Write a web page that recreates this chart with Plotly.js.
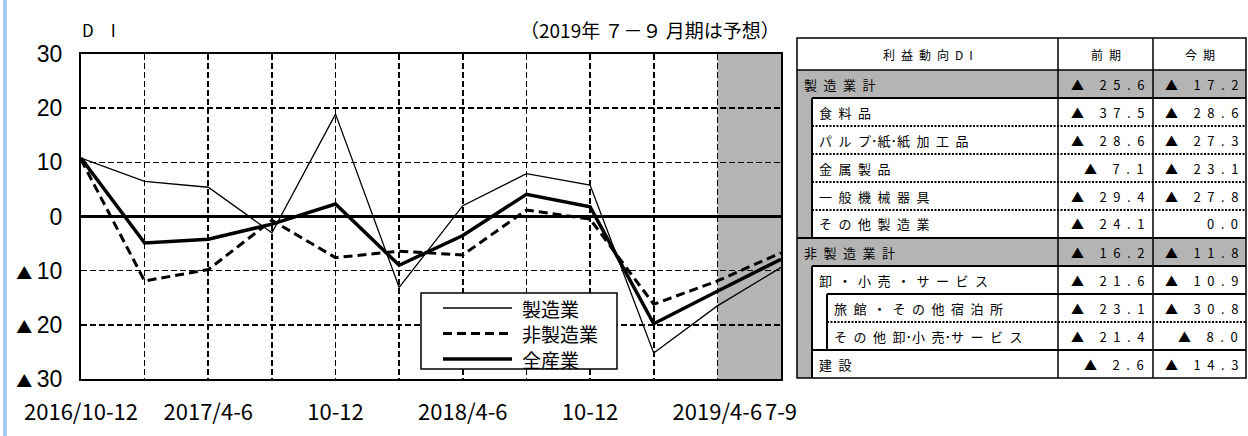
<!DOCTYPE html>
<html><head><meta charset="utf-8">
<script src="https://cdn.plot.ly/plotly-3.0.1.min.js"></script>
<style>html,body{margin:0;padding:0;background:#fff}#chart{width:1248px;height:436px}</style>
</head><body><div id="chart"></div>
<script>
// ---- chart data ----
const periods = ['2016/10-12','2017/1-3','2017/4-6','2017/7-9','2017/10-12','2018/1-3','2018/4-6','2018/7-9','2018/10-12','2019/1-3','2019/4-6','2019/7-9'];
const xTickLabels = ['2016/10-12','','2017/4-6','','10-12','','2018/4-6','','10-12','','2019/4-6','7-9'];
const yTickValues = [30,20,10,0,-10,-20,-30];
const yTickLabels = ['30','20','10','0','▲10','▲20','▲30'];
const seriesNames = ['製造業','非製造業','全産業'];
const manufacturing = [10.8, 6.5, 5.4, -3.0, 18.9, -13.1, 2.0, 7.9, 5.8, -25.2, -16.5, -9.4];
const nonManufacturing = [10.5, -11.9, -9.8, -0.7, -7.6, -6.4, -7.1, 1.2, -0.5, -16.2, -11.9, -6.7];
const allIndustries = [10.8, -4.9, -4.2, -1.4, 2.3, -9.0, -3.5, 4.1, 1.8, -19.8, -13.8, -7.9];
const forecastPeriods = ['2019/4-6','2019/7-9'];

// ---- table data ----
const tableHeader = ['利益動向DI','前期','今期'];
const tableLabels = ['製造業計','食料品','パルプ･紙･紙加工品','金属製品','一般機械器具','その他製造業','非製造業計','卸・小売・サービス','旅館・その他宿泊所','その他卸･小売･サービス','建設'];
const tableLevels = [0,1,1,1,1,1,0,1,2,2,1];
const prevDI = [-25.6,-37.5,-28.6,-7.1,-29.4,-24.1,-16.2,-21.6,-23.1,-21.4,-2.6];
const currDI = [-17.2,-28.6,-27.3,-23.1,-27.8,0.0,-11.8,-10.9,-30.8,-8.0,-14.3];

// ---- geometry helpers ----
const W = 1248, Hh = 436;
const L = 81, R = 781, T = 54, B = 379;
const PW = R - L, PH = B - T;
const px = x => (x - L) / PW;
const py = y => (B - y) / PH;
const GRAY = '#b4b4b4';
const JP = 'Noto Sans CJK JP, sans-serif';

const traces = [
  {x: periods, y: manufacturing, name: seriesNames[0], type: 'scatter', mode: 'lines',
   line: {color: '#000', width: 1.3}},
  {x: periods, y: nonManufacturing, name: seriesNames[1], type: 'scatter', mode: 'lines',
   line: {color: '#000', width: 3, dash: '9px,5px'}},
  {x: periods, y: allIndustries, name: seriesNames[2], type: 'scatter', mode: 'lines',
   line: {color: '#000', width: 3.5}}
];

const shapes = [];
const annotations = [];

// left blue bar
shapes.push({type: 'rect', xref: 'paper', yref: 'paper', x0: px(3), x1: px(7), y0: py(Hh), y1: py(0),
  fillcolor: '#a6c9ef', line: {width: 0}, layer: 'below'});
// forecast shading
shapes.push({type: 'rect', xref: 'x', yref: 'paper', x0: forecastPeriods[0], x1: forecastPeriods[1], y0: 0, y1: 1,
  fillcolor: GRAY, line: {width: 0}, layer: 'below'});

// top texts
annotations.push({xref: 'paper', yref: 'paper', x: px(80), y: py(30), xanchor: 'left', yanchor: 'middle',
  text: 'D\u2003I', showarrow: false, font: {family: JP, size: 17, color: '#000'}});
annotations.push({xref: 'paper', yref: 'paper', x: px(782), y: py(30), xanchor: 'right', yanchor: 'middle',
  text: '（2019年 ７－９ 月期は予想）', showarrow: false, font: {family: JP, size: 19, color: '#000'}});

// ---- custom legend box (long line samples as in the original) ----
const lgX0 = 421, lgX1 = 617, lgY0 = 293, lgY1 = 369;
shapes.push({type: 'rect', xref: 'paper', yref: 'paper', x0: px(lgX0), x1: px(lgX1), y0: py(lgY1), y1: py(lgY0),
  fillcolor: '#fff', line: {color: '#000', width: 1.5}, layer: 'above'});
traces.forEach((tr, k) => {
  const yc = lgY0 + 15 + k * 25.5;
  shapes.push({type: 'line', xref: 'paper', yref: 'paper', x0: px(443), x1: px(512), y0: py(yc), y1: py(yc),
    line: {color: tr.line.color, width: tr.line.width, dash: tr.line.dash || 'solid'}, layer: 'above'});
  annotations.push({xref: 'paper', yref: 'paper', x: px(520), y: py(yc), xanchor: 'left', yanchor: 'middle',
    text: tr.name, showarrow: false, font: {family: JP, size: 19, color: '#000'}});
});

// ---- table ----
const tTop = 38, tHead = 70, tBot = 378;
const colX = [797, 1058, 1153, 1246];
const indentX = [797, 812, 827];
const rowH = (tBot - tHead) / tableLabels.length;
const rowTop = i => tHead + rowH * i;
function spaced(s) {
  const ch = Array.from(s);
  let out = '';
  ch.forEach((c, k) => {
    out += c;
    if (k < ch.length - 1 && c !== '･' && ch[k+1] !== '･') out += '\u2002';
  });
  return out;
}
function fmtVal(v) {
  const a = Math.abs(v).toFixed(1);
  const digits = Array.from(a).join('\u2002');
  if (v === 0) return digits;
  return '▲\u2002\u2002\u2009' + digits;
}
const rectP = (x0, x1, y0, y1, fill, lw) => ({type: 'rect', xref: 'paper', yref: 'paper',
  x0: px(x0), x1: px(x1), y0: py(y1), y1: py(y0), fillcolor: fill, line: {width: lw || 0, color: '#000'}, layer: 'above'});
const lineP = (x0, y0, x1, y1, w, dash) => ({type: 'line', xref: 'paper', yref: 'paper',
  x0: px(x0), x1: px(x1), y0: py(y0), y1: py(y1), line: {color: '#000', width: w, dash: dash || 'solid'}, layer: 'above'});

shapes.push(rectP(colX[0], colX[3], tTop, tBot, '#fff', 0));
shapes.push(rectP(colX[0], colX[3], tHead, tBot, GRAY, 0));
tableLabels.forEach((lab, i) => {
  if (tableLevels[i] >= 1) shapes.push(rectP(indentX[1], colX[3], rowTop(i), rowTop(i+1), '#fff', 0));
});
// horizontal lines
shapes.push(lineP(colX[0], tHead, colX[3], tHead, 1.5));
tableLabels.forEach((lab, i) => {
  if (i === 0) return;
  const lv = tableLevels[i], pv = tableLevels[i-1];
  const y = rowTop(i);
  if (lv === 0) shapes.push(lineP(colX[0], y, colX[3], y, 2));
  else if (pv === 0) shapes.push(lineP(indentX[1], y, colX[3], y, 2));
  else if (lv === 2 && pv === 1) shapes.push(lineP(indentX[2], y, colX[3], y, 2));
  else if (lv === 2 && pv === 2) shapes.push(lineP(indentX[2], y, colX[3], y, 2, '2px,1.5px'));
  else if (lv === 1 && pv === 2) shapes.push(lineP(indentX[1], y, colX[3], y, 2));
  else shapes.push(lineP(indentX[1], y, colX[3], y, 2, '2px,1.5px'));
});
// vertical lines
tableLabels.forEach((lab, i) => {
  const lv = tableLevels[i];
  if (lv >= 1) shapes.push(lineP(indentX[1], rowTop(i), indentX[1], rowTop(i+1), 2));
  if (lv >= 2) shapes.push(lineP(indentX[2], rowTop(i), indentX[2], rowTop(i+1), 2));
});
shapes.push(lineP(colX[1], tTop, colX[1], tBot, 1.5));
shapes.push(lineP(colX[2], tTop, colX[2], tBot, 1.5));
shapes.push(rectP(colX[0], colX[3], tTop, tBot, 'rgba(0,0,0,0)', 1.5));

// header text
tableHeader.forEach((h, c) => {
  annotations.push({xref: 'paper', yref: 'paper', x: px((colX[c] + colX[c+1]) / 2), y: py((tTop + tHead) / 2),
    xanchor: 'center', yanchor: 'middle', text: spaced(h), showarrow: false,
    font: {family: JP, size: 12, color: '#000'}});
});
// rows text
tableLabels.forEach((lab, i) => {
  const yc = py(rowTop(i) + rowH / 2);
  annotations.push({xref: 'paper', yref: 'paper', x: px(indentX[tableLevels[i]] + 5), y: yc,
    xanchor: 'left', yanchor: 'middle', text: spaced(lab), showarrow: false,
    font: {family: JP, size: 13, color: '#000'}});
  annotations.push({xref: 'paper', yref: 'paper', x: px(colX[2] - 7), y: yc,
    xanchor: 'right', yanchor: 'middle', text: fmtVal(prevDI[i]), showarrow: false,
    font: {family: JP, size: 13, color: '#000'}});
  annotations.push({xref: 'paper', yref: 'paper', x: px(colX[3] - 6), y: yc,
    xanchor: 'right', yanchor: 'middle', text: fmtVal(currDI[i]), showarrow: false,
    font: {family: JP, size: 13, color: '#000'}});
});

const yTickText = yTickLabels.map(s => s.replace('▲', '<span style="font-family:Noto Sans CJK JP;font-size:16px">▲</span>\u2009'));

const layout = {
  width: W, height: Hh,
  margin: {l: L, r: W - R, t: T, b: Hh - B, pad: 0},
  paper_bgcolor: '#fff', plot_bgcolor: 'rgba(0,0,0,0)',
  showlegend: false,
  xaxis: {type: 'category', range: [0, periods.length - 1], tickvals: periods, ticktext: xTickLabels,
    tickangle: 0, ticks: '', showgrid: true, gridcolor: '#000', griddash: '6px,3px', gridwidth: 1.6,
    showline: true, mirror: true, linecolor: '#000', linewidth: 2, zeroline: false,
    tickfont: {family: JP, size: 22, color: '#000'}, ticklabelstandoff: 13, fixedrange: true},
  yaxis: {range: [-30, 30], tickvals: yTickValues, ticktext: yTickText, ticks: '',
    showgrid: true, gridcolor: '#000', griddash: '6px,3px', gridwidth: 1.6,
    zeroline: true, zerolinecolor: '#000', zerolinewidth: 3.5,
    showline: true, mirror: true, linecolor: '#000', linewidth: 2,
    tickfont: {family: 'Liberation Sans, Arial, sans-serif', size: 23, color: '#000'}, ticklabelstandoff: 12, fixedrange: true},
  shapes: shapes,
  annotations: annotations
};

Plotly.newPlot('chart', traces, layout, {displayModeBar: false, staticPlot: true});
</script>
</body></html>
